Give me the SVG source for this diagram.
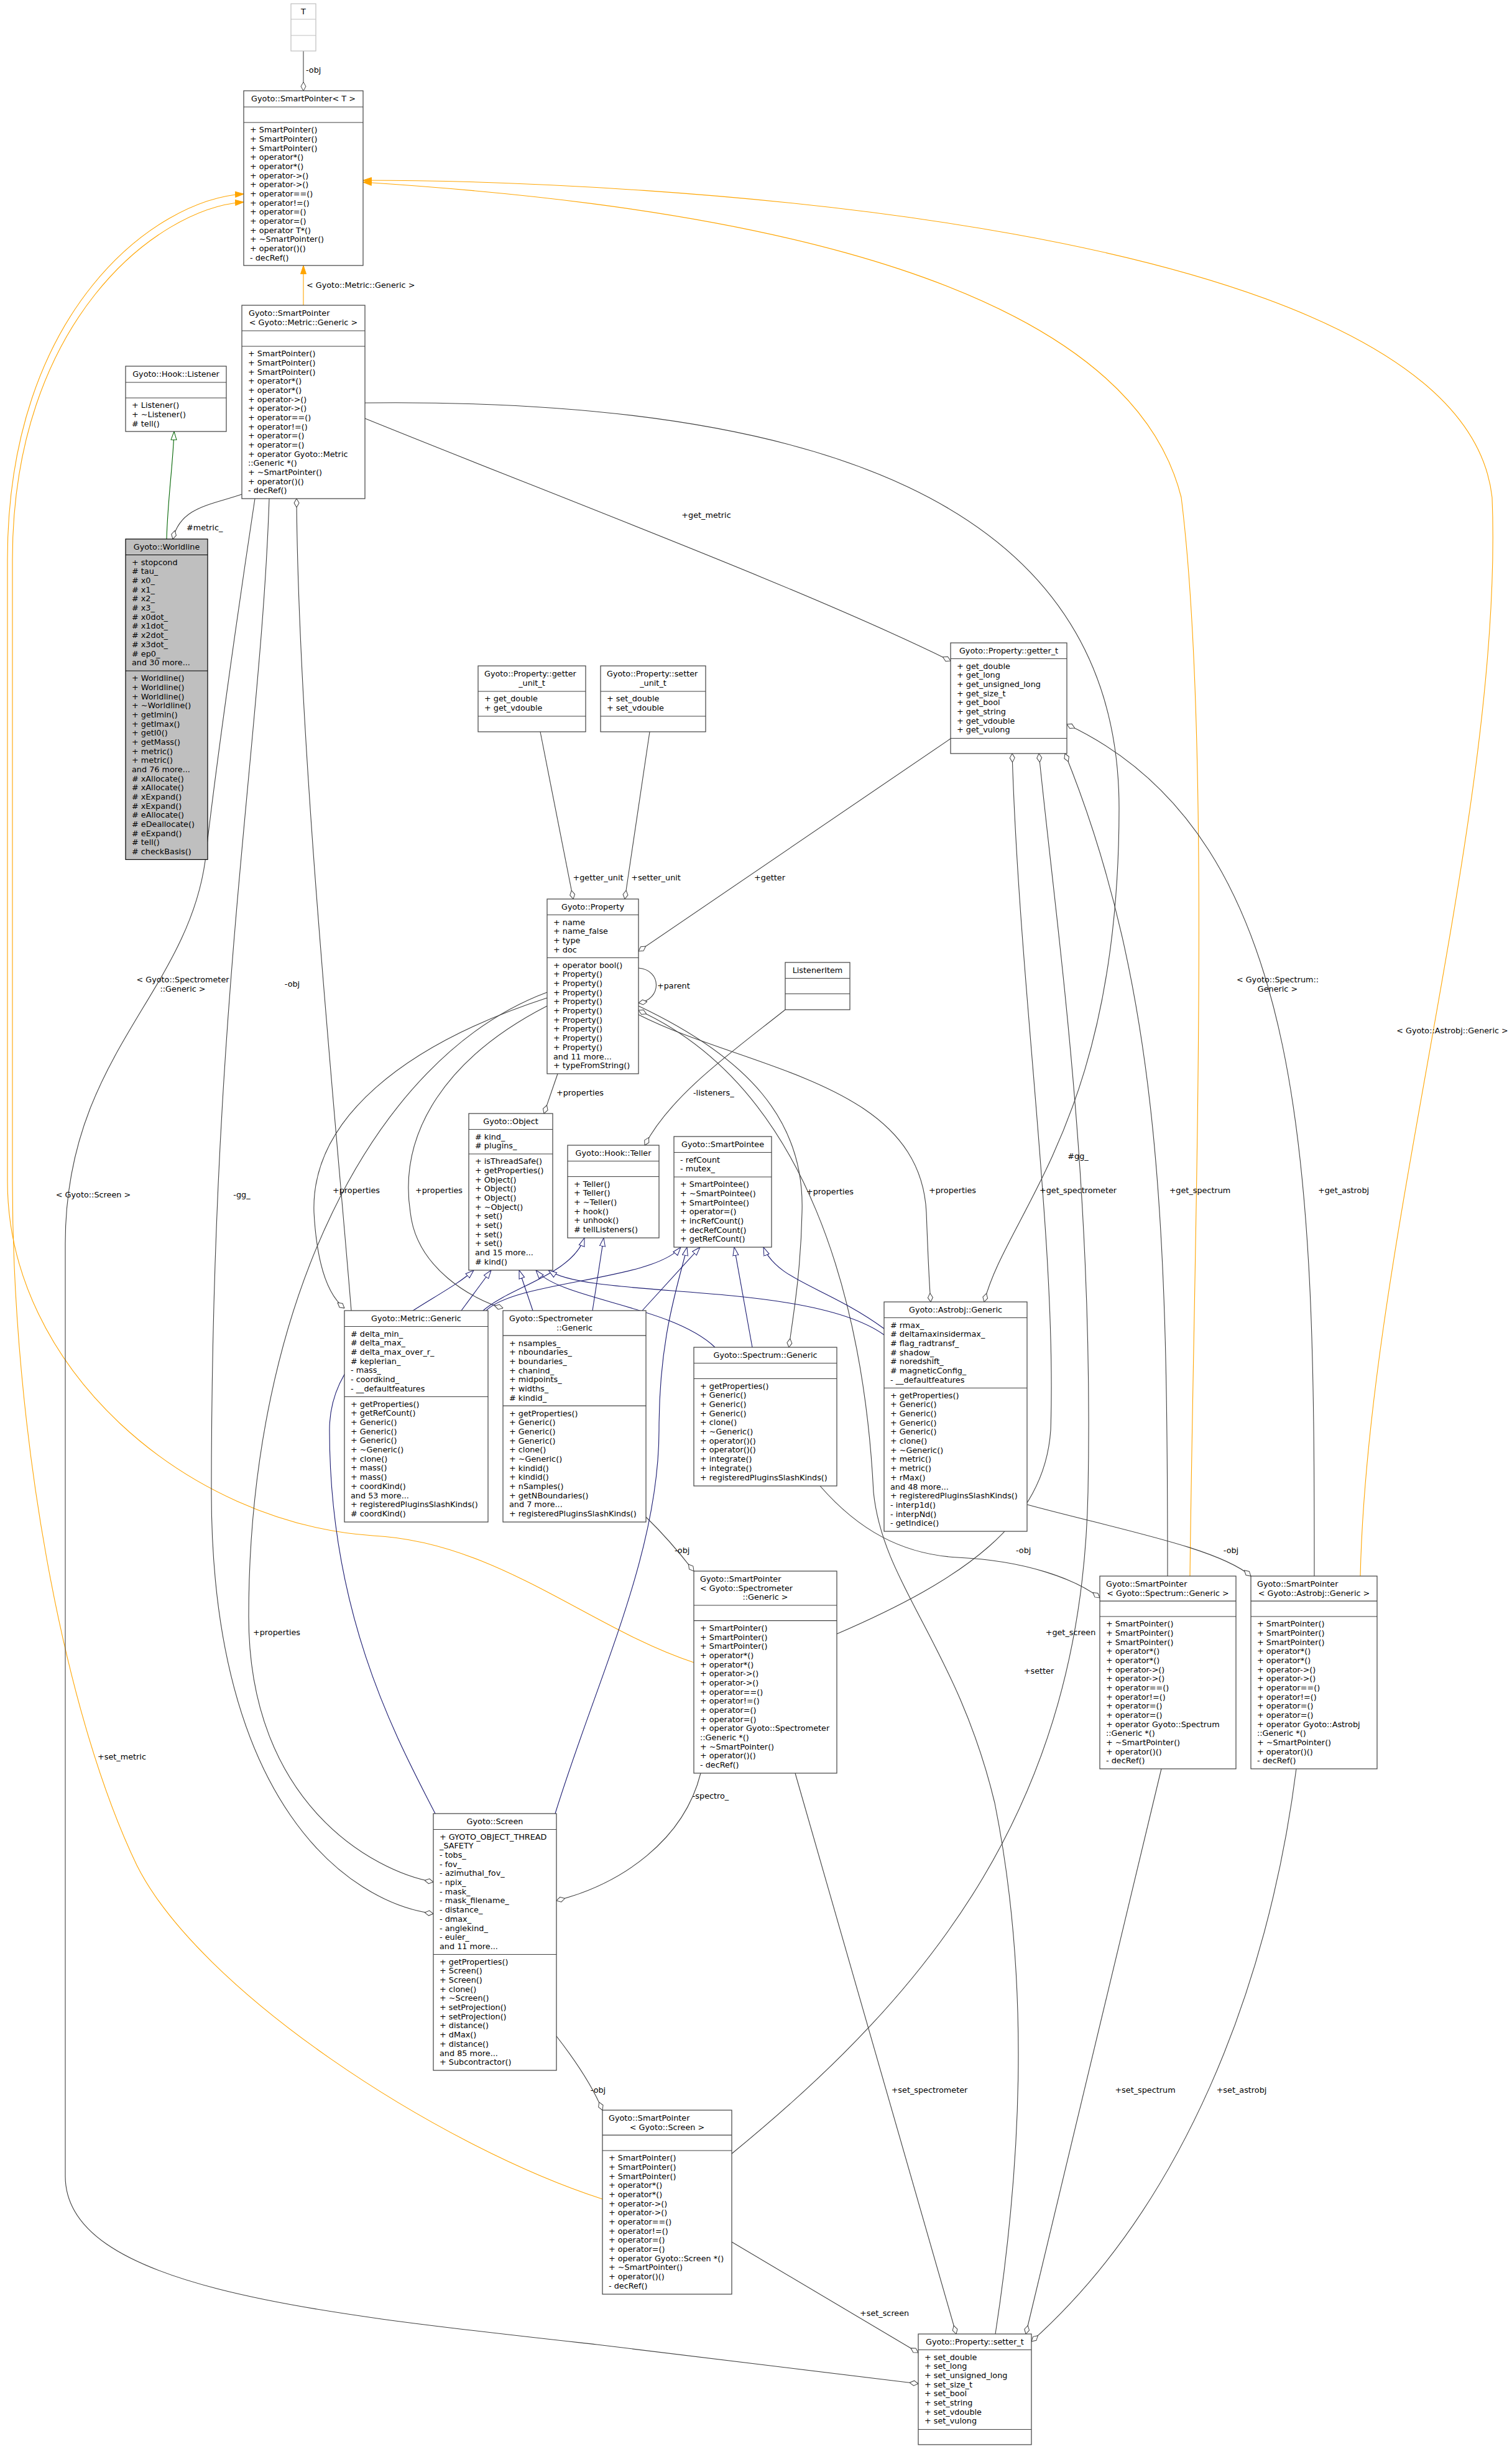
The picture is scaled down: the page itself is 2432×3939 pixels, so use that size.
<svg xmlns="http://www.w3.org/2000/svg" width="2432" height="3939" viewBox="0 0 2432 3939">
<style>
text{font-family:"DejaVu Sans","Liberation Sans",sans-serif;font-size:12.8px;fill:#000}
.c{text-anchor:middle}
.b{fill:#fff;stroke:#404040;stroke-width:1.2}
.s{fill:none;stroke:#404040;stroke-width:1.2}
.g{fill:#fff;stroke:#bfbfbf;stroke-width:1.2}
.gs{fill:none;stroke:#bfbfbf;stroke-width:1.2}
.w{fill:#bfbfbf;stroke:#000;stroke-width:1.2}
.ws{fill:none;stroke:#000;stroke-width:1.2}
.e{fill:none;stroke:#404040;stroke-width:1.1;marker-end:url(#dia)}
.i{fill:none;stroke:#191970;stroke-width:1.1;marker-end:url(#inh)}
.o{fill:none;stroke:#ffa500;stroke-width:1.1;marker-end:url(#tpl)}
.p{fill:none;stroke:#006400;stroke-width:1.1;marker-end:url(#grn)}
</style>
<defs>
<marker id="dia" viewBox="0 0 15 10" refX="14.5" refY="5" markerWidth="15" markerHeight="10" markerUnits="userSpaceOnUse" orient="auto"><path d="M0.5,5 L7.5,1 L14.5,5 L7.5,9 Z" fill="#fff" stroke="#404040" stroke-width="1"/></marker>
<marker id="inh" viewBox="0 0 15 11" refX="14" refY="5.5" markerWidth="15" markerHeight="11" markerUnits="userSpaceOnUse" orient="auto"><path d="M0.5,1 L14,5.5 L0.5,10 Z" fill="#fff" stroke="#191970" stroke-width="1"/></marker>
<marker id="grn" viewBox="0 0 15 11" refX="14" refY="5.5" markerWidth="15" markerHeight="11" markerUnits="userSpaceOnUse" orient="auto"><path d="M0.5,1 L14,5.5 L0.5,10 Z" fill="#fff" stroke="#006400" stroke-width="1"/></marker>
<marker id="tpl" viewBox="0 0 15 11" refX="14" refY="5.5" markerWidth="15" markerHeight="11" markerUnits="userSpaceOnUse" orient="auto"><path d="M0.5,1 L14,5.5 L0.5,10 Z" fill="#ffa500" stroke="#ffa500" stroke-width="1"/></marker>
</defs>
<rect width="2432" height="3939" fill="#fff"/>

<g id="edges">
<path class="o" d="M488,491 L488,427"/>
<path class="o" d="M1116,2674 C950,2620 800,2480 600,2470 C300,2450 12,2200 12,1900 L12,900 C12,500 250,320 392,312"/>
<path class="o" d="M969,3537 C700,3450 320,3200 220,3000 C100,2750 20,2300 20,1900 L20,900 C20,520 250,335 392,325"/>
<path class="o" d="M1914,2535 C1920,2000 1950,1200 1900,800 C1800,400 1000,320 584,293"/>
<path class="o" d="M2188,2535 C2200,2000 2420,1300 2400,800 C2350,350 1000,290 584,290"/>
<path class="p" d="M268,867 C270,800 278,750 280,694"/>
<path class="e" d="M488,82 L488,146"/>
<path class="e" d="M389,795 C340,812 290,815 278,867"/>
<path class="e" d="M587,673 C900,800 1300,950 1529,1063"/>
<path class="e" d="M410,802 C380,1000 345,1250 330,1385 C300,1600 105,1700 105,2000 L105,3500 C105,3680 500,3720 960,3771 L1477,3834"/>
<path class="e" d="M587,648 C1300,640 1800,800 1800,1300 C1800,1800 1620,1950 1583,2094"/>
<path class="e" d="M433,802 C420,1200 340,1600 340,2400 C340,2900 560,3060 697,3078"/>
<path class="e" d="M565,2108 C540,1800 480,1200 477,802"/>
<path class="e" d="M869,1177 L922,1446"/>
<path class="e" d="M1045,1177 L1005,1446"/>
<path class="e" d="M1529,1188 L1027,1530"/>
<path class="e" d="M1027,1557 C1065,1560 1065,1608 1027,1613"/>
<path class="e" d="M897,1727 L875,1791"/>
<path class="e" d="M880,1605 C650,1680 500,1800 505,1950 C510,2040 530,2085 554,2104"/>
<path class="e" d="M880,1618 C720,1700 640,1820 660,1950 C670,2040 760,2090 809,2104"/>
<path class="e" d="M1027,1618 C1200,1700 1295,1800 1290,1950 C1288,2050 1275,2120 1269,2167"/>
<path class="e" d="M1027,1632 C1200,1720 1480,1740 1490,1950 C1493,2030 1495,2070 1497,2094"/>
<path class="e" d="M880,1596 C600,1700 400,2100 400,2600 C400,2900 600,3010 697,3027"/>
<path class="e" d="M1263,1624 C1180,1690 1080,1760 1037,1842"/>
<path class="e" d="M1346,2628 C1550,2540 1680,2450 1690,2300 C1700,2000 1640,1600 1628,1212"/>
<path class="e" d="M1177,3464 C1500,3200 1740,2900 1750,2400 C1760,1900 1700,1500 1671,1212"/>
<path class="e" d="M1878,2535 C1878,2000 1870,1600 1713,1212"/>
<path class="e" d="M2114,2535 C2114,1900 2110,1350 1716,1165"/>
<path class="e" d="M1279,2852 L1538,3754"/>
<path class="e" d="M1868,2845 L1650,3754"/>
<path class="e" d="M2085,2845 C2040,3200 1900,3550 1659,3766"/>
<path class="e" d="M1177,3606 L1477,3784"/>
<path class="e" d="M1127,2852 C1100,2960 1000,3030 895,3057"/>
<path class="e" d="M895,3275 C930,3320 955,3360 969,3394"/>
<path class="e" d="M1039,2440 C1070,2470 1095,2500 1116,2527"/>
<path class="e" d="M1319,2390 C1380,2460 1450,2500 1540,2505 C1650,2510 1730,2540 1769,2570"/>
<path class="e" d="M1652,2420 C1800,2460 1960,2490 2012,2535"/>
<path class="e" d="M1601,3754 C1640,3500 1660,3200 1600,2900 C1540,2650 1420,2550 1405,2400 C1390,2100 1300,1750 1027,1625"/>
<path class="i" d="M742,2108 L790,2043"/>
<path class="i" d="M777,2108 C820,2070 920,2050 940,1991"/>
<path class="i" d="M782,2108 C830,2060 1050,2060 1095,2006"/>
<path class="i" d="M857,2108 L835,2043"/>
<path class="i" d="M953,2108 L971,1991"/>
<path class="i" d="M1033,2108 L1126,2006"/>
<path class="i" d="M1150,2167 C1080,2100 900,2090 862,2043"/>
<path class="i" d="M1210,2167 L1181,2006"/>
<path class="i" d="M1422,2147 C1300,2060 950,2090 882,2043"/>
<path class="i" d="M1422,2137 C1330,2070 1250,2060 1228,2006"/>
<path class="i" d="M700,2917 C640,2800 530,2600 530,2300 C530,2150 700,2100 762,2043"/>
<path class="i" d="M893,2917 C960,2700 1060,2500 1060,2300 C1060,2150 1090,2070 1105,2006"/>
<text x="492" y="117">-obj</text>
<text x="493" y="463">&lt; Gyoto::Metric::Generic &gt;</text>
<text x="300" y="853">#metric_</text>
<text class="c" x="1136" y="833">+get_metric</text>
<text class="c" x="196" y="2830">+set_metric</text>
<text class="c" x="1734" y="1864">#gg_</text>
<text class="c" x="389" y="1926">-gg_</text>
<text class="c" x="470" y="1587">-obj</text>
<text class="c" x="294" y="1580">&lt; Gyoto::Spectrometer</text>
<text class="c" x="294" y="1595">::Generic &gt;</text>
<text class="c" x="150" y="1926">&lt; Gyoto::Screen &gt;</text>
<text class="c" x="2055" y="1580">&lt; Gyoto::Spectrum::</text>
<text class="c" x="2055" y="1595">Generic &gt;</text>
<text class="c" x="2336" y="1662">&lt; Gyoto::Astrobj::Generic &gt;</text>
<text class="c" x="962" y="1416">+getter_unit</text>
<text class="c" x="1055" y="1416">+setter_unit</text>
<text class="c" x="1238" y="1416">+getter</text>
<text x="1057" y="1590">+parent</text>
<text x="895" y="1762">+properties</text>
<text x="1115" y="1762">-listeners_</text>
<text class="c" x="573" y="1919">+properties</text>
<text class="c" x="706" y="1919">+properties</text>
<text x="1297" y="1921">+properties</text>
<text class="c" x="1532" y="1919">+properties</text>
<text class="c" x="445" y="2630">+properties</text>
<text class="c" x="1734" y="1919">+get_spectrometer</text>
<text class="c" x="1930" y="1919">+get_spectrum</text>
<text class="c" x="2161" y="1919">+get_astrobj</text>
<text class="c" x="1722" y="2630">+get_screen</text>
<text class="c" x="1671" y="2692">+setter</text>
<text x="1085" y="2498">-obj</text>
<text x="1634" y="2498">-obj</text>
<text class="c" x="1980" y="2498">-obj</text>
<text class="c" x="1143" y="2893">-spectro_</text>
<text class="c" x="962" y="3366">-obj</text>
<text class="c" x="1495" y="3366">+set_spectrometer</text>
<text class="c" x="1842" y="3366">+set_spectrum</text>
<text class="c" x="1997" y="3366">+set_astrobj</text>
<text x="1383" y="3725">+set_screen</text>
</g>

<g id="n_T"><rect class="g" x="468" y="6" width="40" height="76"/><path class="gs" d="M468,31H508M468,57H508"/><text class="c" x="488" y="23">T</text></g>

<g id="n_SmartPointerT"><rect class="b" x="392" y="146" width="192" height="281"/><path class="s" d="M392,172H584M392,197H584"/>
<text class="c" x="488" y="162.8">Gyoto::SmartPointer&lt; T &gt;</text>
<text x="402" y="213.3"><tspan x="402" dy="0">+ SmartPointer()</tspan><tspan x="402" dy="14.67">+ SmartPointer()</tspan><tspan x="402" dy="14.67">+ SmartPointer()</tspan><tspan x="402" dy="14.67">+ operator*()</tspan><tspan x="402" dy="14.67">+ operator*()</tspan><tspan x="402" dy="14.67">+ operator-&gt;()</tspan><tspan x="402" dy="14.67">+ operator-&gt;()</tspan><tspan x="402" dy="14.67">+ operator==()</tspan><tspan x="402" dy="14.67">+ operator!=()</tspan><tspan x="402" dy="14.67">+ operator=()</tspan><tspan x="402" dy="14.67">+ operator=()</tspan><tspan x="402" dy="14.67">+ operator T*()</tspan><tspan x="402" dy="14.67">+ ~SmartPointer()</tspan><tspan x="402" dy="14.67">+ operator()()</tspan><tspan x="402" dy="14.67">- decRef()</tspan></text></g>

<g id="n_SmartPointerMetric"><rect class="b" x="389" y="491" width="198" height="311"/><path class="s" d="M389,532H587M389,557H587"/>
<text x="400" y="507.8">Gyoto::SmartPointer</text><text class="c" x="488" y="522.5">&lt; Gyoto::Metric::Generic &gt;</text>
<text x="399" y="573.3"><tspan x="399" dy="0">+ SmartPointer()</tspan><tspan x="399" dy="14.67">+ SmartPointer()</tspan><tspan x="399" dy="14.67">+ SmartPointer()</tspan><tspan x="399" dy="14.67">+ operator*()</tspan><tspan x="399" dy="14.67">+ operator*()</tspan><tspan x="399" dy="14.67">+ operator-&gt;()</tspan><tspan x="399" dy="14.67">+ operator-&gt;()</tspan><tspan x="399" dy="14.67">+ operator==()</tspan><tspan x="399" dy="14.67">+ operator!=()</tspan><tspan x="399" dy="14.67">+ operator=()</tspan><tspan x="399" dy="14.67">+ operator=()</tspan><tspan x="399" dy="14.67">+ operator Gyoto::Metric</tspan><tspan x="399" dy="14.67">::Generic *()</tspan><tspan x="399" dy="14.67">+ ~SmartPointer()</tspan><tspan x="399" dy="14.67">+ operator()()</tspan><tspan x="399" dy="14.67">- decRef()</tspan></text></g>

<g id="n_Listener"><rect class="b" x="202" y="589" width="162" height="105"/><path class="s" d="M202,615H364M202,640H364"/>
<text class="c" x="283" y="606">Gyoto::Hook::Listener</text>
<text x="212" y="656.3"><tspan x="212" dy="0">+ Listener()</tspan><tspan x="212" dy="14.67">+ ~Listener()</tspan><tspan x="212" dy="14.67"># tell()</tspan></text></g>

<g id="n_Worldline"><rect class="w" x="202" y="867" width="132" height="515.5"/><path class="ws" d="M202,892.5H334M202,1079H334"/>
<text class="c" x="268" y="884">Gyoto::Worldline</text>
<text x="212" y="908.8"><tspan x="212" dy="0">+ stopcond</tspan><tspan x="212" dy="14.67"># tau_</tspan><tspan x="212" dy="14.67"># x0_</tspan><tspan x="212" dy="14.67"># x1_</tspan><tspan x="212" dy="14.67"># x2_</tspan><tspan x="212" dy="14.67"># x3_</tspan><tspan x="212" dy="14.67"># x0dot_</tspan><tspan x="212" dy="14.67"># x1dot_</tspan><tspan x="212" dy="14.67"># x2dot_</tspan><tspan x="212" dy="14.67"># x3dot_</tspan><tspan x="212" dy="14.67"># ep0_</tspan><tspan x="212" dy="14.67">and 30 more...</tspan></text>
<text x="212" y="1095.3"><tspan x="212" dy="0">+ Worldline()</tspan><tspan x="212" dy="14.67">+ Worldline()</tspan><tspan x="212" dy="14.67">+ Worldline()</tspan><tspan x="212" dy="14.67">+ ~Worldline()</tspan><tspan x="212" dy="14.67">+ getImin()</tspan><tspan x="212" dy="14.67">+ getImax()</tspan><tspan x="212" dy="14.67">+ getI0()</tspan><tspan x="212" dy="14.67">+ getMass()</tspan><tspan x="212" dy="14.67">+ metric()</tspan><tspan x="212" dy="14.67">+ metric()</tspan><tspan x="212" dy="14.67">and 76 more...</tspan><tspan x="212" dy="14.67"># xAllocate()</tspan><tspan x="212" dy="14.67"># xAllocate()</tspan><tspan x="212" dy="14.67"># xExpand()</tspan><tspan x="212" dy="14.67"># xExpand()</tspan><tspan x="212" dy="14.67"># eAllocate()</tspan><tspan x="212" dy="14.67"># eDeallocate()</tspan><tspan x="212" dy="14.67"># eExpand()</tspan><tspan x="212" dy="14.67"># tell()</tspan><tspan x="212" dy="14.67"># checkBasis()</tspan></text></g>

<g id="n_getter_unit_t"><rect class="b" x="769" y="1071" width="173" height="106"/><path class="s" d="M769,1112H942M769,1152H942"/>
<text x="779" y="1087.8">Gyoto::Property::getter</text><text class="c" x="855.5" y="1102.5">_unit_t</text>
<text x="779" y="1128.3"><tspan x="779" dy="0">+ get_double</tspan><tspan x="779" dy="14.67">+ get_vdouble</tspan></text></g>

<g id="n_setter_unit_t"><rect class="b" x="966" y="1071" width="169" height="106"/><path class="s" d="M966,1112H1135M966,1152H1135"/>
<text x="976" y="1087.8">Gyoto::Property::setter</text><text class="c" x="1050.5" y="1102.5">_unit_t</text>
<text x="976" y="1128.3"><tspan x="976" dy="0">+ set_double</tspan><tspan x="976" dy="14.67">+ set_vdouble</tspan></text></g>

<g id="n_getter_t"><rect class="b" x="1529" y="1034" width="187" height="178"/><path class="s" d="M1529,1059.5H1716M1529,1187.5H1716"/>
<text class="c" x="1622.5" y="1051">Gyoto::Property::getter_t</text>
<text x="1539" y="1075.8"><tspan x="1539" dy="0">+ get_double</tspan><tspan x="1539" dy="14.67">+ get_long</tspan><tspan x="1539" dy="14.67">+ get_unsigned_long</tspan><tspan x="1539" dy="14.67">+ get_size_t</tspan><tspan x="1539" dy="14.67">+ get_bool</tspan><tspan x="1539" dy="14.67">+ get_string</tspan><tspan x="1539" dy="14.67">+ get_vdouble</tspan><tspan x="1539" dy="14.67">+ get_vulong</tspan></text></g>

<g id="n_Property"><rect class="b" x="880" y="1446" width="147" height="281"/><path class="s" d="M880,1471.5H1027M880,1540.5H1027"/>
<text class="c" x="953.5" y="1463">Gyoto::Property</text>
<text x="890" y="1487.8"><tspan x="890" dy="0">+ name</tspan><tspan x="890" dy="14.67">+ name_false</tspan><tspan x="890" dy="14.67">+ type</tspan><tspan x="890" dy="14.67">+ doc</tspan></text>
<text x="890" y="1556.8"><tspan x="890" dy="0">+ operator bool()</tspan><tspan x="890" dy="14.67">+ Property()</tspan><tspan x="890" dy="14.67">+ Property()</tspan><tspan x="890" dy="14.67">+ Property()</tspan><tspan x="890" dy="14.67">+ Property()</tspan><tspan x="890" dy="14.67">+ Property()</tspan><tspan x="890" dy="14.67">+ Property()</tspan><tspan x="890" dy="14.67">+ Property()</tspan><tspan x="890" dy="14.67">+ Property()</tspan><tspan x="890" dy="14.67">+ Property()</tspan><tspan x="890" dy="14.67">and 11 more...</tspan><tspan x="890" dy="14.67">+ typeFromString()</tspan></text></g>

<g id="n_ListenerItem"><rect class="b" x="1263" y="1548" width="104" height="76"/><path class="s" d="M1263,1573.5H1367M1263,1598.5H1367"/>
<text class="c" x="1315" y="1565">ListenerItem</text></g>

<g id="n_Object"><rect class="b" x="754" y="1791" width="135" height="252"/><path class="s" d="M754,1816.5H889M754,1856H889"/>
<text class="c" x="821.5" y="1808">Gyoto::Object</text>
<text x="764" y="1832.8"><tspan x="764" dy="0"># kind_</tspan><tspan x="764" dy="14.67"># plugins_</tspan></text>
<text x="764" y="1872.3"><tspan x="764" dy="0">+ isThreadSafe()</tspan><tspan x="764" dy="14.67">+ getProperties()</tspan><tspan x="764" dy="14.67">+ Object()</tspan><tspan x="764" dy="14.67">+ Object()</tspan><tspan x="764" dy="14.67">+ Object()</tspan><tspan x="764" dy="14.67">+ ~Object()</tspan><tspan x="764" dy="14.67">+ set()</tspan><tspan x="764" dy="14.67">+ set()</tspan><tspan x="764" dy="14.67">+ set()</tspan><tspan x="764" dy="14.67">+ set()</tspan><tspan x="764" dy="14.67">and 15 more...</tspan><tspan x="764" dy="14.67"># kind()</tspan></text></g>

<g id="n_Teller"><rect class="b" x="913" y="1842" width="147" height="149"/><path class="s" d="M913,1867.5H1060M913,1892.5H1060"/>
<text class="c" x="986.5" y="1859">Gyoto::Hook::Teller</text>
<text x="923" y="1908.8"><tspan x="923" dy="0">+ Teller()</tspan><tspan x="923" dy="14.67">+ Teller()</tspan><tspan x="923" dy="14.67">+ ~Teller()</tspan><tspan x="923" dy="14.67">+ hook()</tspan><tspan x="923" dy="14.67">+ unhook()</tspan><tspan x="923" dy="14.67"># tellListeners()</tspan></text></g>

<g id="n_SmartPointee"><rect class="b" x="1084" y="1828" width="157" height="178"/><path class="s" d="M1084,1853.5H1241M1084,1893H1241"/>
<text class="c" x="1162.5" y="1845">Gyoto::SmartPointee</text>
<text x="1094" y="1869.8"><tspan x="1094" dy="0">- refCount</tspan><tspan x="1094" dy="14.67">- mutex_</tspan></text>
<text x="1094" y="1909.3"><tspan x="1094" dy="0">+ SmartPointee()</tspan><tspan x="1094" dy="14.67">+ ~SmartPointee()</tspan><tspan x="1094" dy="14.67">+ SmartPointee()</tspan><tspan x="1094" dy="14.67">+ operator=()</tspan><tspan x="1094" dy="14.67">+ incRefCount()</tspan><tspan x="1094" dy="14.67">+ decRefCount()</tspan><tspan x="1094" dy="14.67">+ getRefCount()</tspan></text></g>

<g id="n_MetricGeneric"><rect class="b" x="554" y="2108" width="231" height="340"/><path class="s" d="M554,2133.5H785M554,2246.5H785"/>
<text class="c" x="669.5" y="2125">Gyoto::Metric::Generic</text>
<text x="564" y="2149.8"><tspan x="564" dy="0"># delta_min_</tspan><tspan x="564" dy="14.67"># delta_max_</tspan><tspan x="564" dy="14.67"># delta_max_over_r_</tspan><tspan x="564" dy="14.67"># keplerian_</tspan><tspan x="564" dy="14.67">- mass_</tspan><tspan x="564" dy="14.67">- coordkind_</tspan><tspan x="564" dy="14.67">- __defaultfeatures</tspan></text>
<text x="564" y="2262.8"><tspan x="564" dy="0">+ getProperties()</tspan><tspan x="564" dy="14.67">+ getRefCount()</tspan><tspan x="564" dy="14.67">+ Generic()</tspan><tspan x="564" dy="14.67">+ Generic()</tspan><tspan x="564" dy="14.67">+ Generic()</tspan><tspan x="564" dy="14.67">+ ~Generic()</tspan><tspan x="564" dy="14.67">+ clone()</tspan><tspan x="564" dy="14.67">+ mass()</tspan><tspan x="564" dy="14.67">+ mass()</tspan><tspan x="564" dy="14.67">+ coordKind()</tspan><tspan x="564" dy="14.67">and 53 more...</tspan><tspan x="564" dy="14.67">+ registeredPluginsSlashKinds()</tspan><tspan x="564" dy="14.67"># coordKind()</tspan></text></g>

<g id="n_SpectrometerGeneric"><rect class="b" x="809" y="2108" width="230" height="340"/><path class="s" d="M809,2148.2H1039M809,2261.2H1039"/>
<text x="819" y="2124.8">Gyoto::Spectrometer</text><text class="c" x="924" y="2139.5">::Generic</text>
<text x="819" y="2164.5"><tspan x="819" dy="0">+ nsamples_</tspan><tspan x="819" dy="14.67">+ nboundaries_</tspan><tspan x="819" dy="14.67">+ boundaries_</tspan><tspan x="819" dy="14.67">+ chanind_</tspan><tspan x="819" dy="14.67">+ midpoints_</tspan><tspan x="819" dy="14.67">+ widths_</tspan><tspan x="819" dy="14.67"># kindid_</tspan></text>
<text x="819" y="2277.5"><tspan x="819" dy="0">+ getProperties()</tspan><tspan x="819" dy="14.67">+ Generic()</tspan><tspan x="819" dy="14.67">+ Generic()</tspan><tspan x="819" dy="14.67">+ Generic()</tspan><tspan x="819" dy="14.67">+ clone()</tspan><tspan x="819" dy="14.67">+ ~Generic()</tspan><tspan x="819" dy="14.67">+ kindid()</tspan><tspan x="819" dy="14.67">+ kindid()</tspan><tspan x="819" dy="14.67">+ nSamples()</tspan><tspan x="819" dy="14.67">+ getNBoundaries()</tspan><tspan x="819" dy="14.67">and 7 more...</tspan><tspan x="819" dy="14.67">+ registeredPluginsSlashKinds()</tspan></text></g>

<g id="n_SpectrumGeneric"><rect class="b" x="1116" y="2167" width="230" height="223"/><path class="s" d="M1116,2192.5H1346M1116,2217.5H1346"/>
<text class="c" x="1231" y="2184">Gyoto::Spectrum::Generic</text>
<text x="1126" y="2233.8"><tspan x="1126" dy="0">+ getProperties()</tspan><tspan x="1126" dy="14.67">+ Generic()</tspan><tspan x="1126" dy="14.67">+ Generic()</tspan><tspan x="1126" dy="14.67">+ Generic()</tspan><tspan x="1126" dy="14.67">+ clone()</tspan><tspan x="1126" dy="14.67">+ ~Generic()</tspan><tspan x="1126" dy="14.67">+ operator()()</tspan><tspan x="1126" dy="14.67">+ operator()()</tspan><tspan x="1126" dy="14.67">+ integrate()</tspan><tspan x="1126" dy="14.67">+ integrate()</tspan><tspan x="1126" dy="14.67">+ registeredPluginsSlashKinds()</tspan></text></g>

<g id="n_AstrobjGeneric"><rect class="b" x="1422" y="2094" width="230" height="369"/><path class="s" d="M1422,2119.5H1652M1422,2232.5H1652"/>
<text class="c" x="1537" y="2111">Gyoto::Astrobj::Generic</text>
<text x="1432" y="2135.8"><tspan x="1432" dy="0"># rmax_</tspan><tspan x="1432" dy="14.67"># deltamaxinsidermax_</tspan><tspan x="1432" dy="14.67"># flag_radtransf_</tspan><tspan x="1432" dy="14.67"># shadow_</tspan><tspan x="1432" dy="14.67"># noredshift_</tspan><tspan x="1432" dy="14.67"># magneticConfig_</tspan><tspan x="1432" dy="14.67">- __defaultfeatures</tspan></text>
<text x="1432" y="2248.8"><tspan x="1432" dy="0">+ getProperties()</tspan><tspan x="1432" dy="14.67">+ Generic()</tspan><tspan x="1432" dy="14.67">+ Generic()</tspan><tspan x="1432" dy="14.67">+ Generic()</tspan><tspan x="1432" dy="14.67">+ Generic()</tspan><tspan x="1432" dy="14.67">+ clone()</tspan><tspan x="1432" dy="14.67">+ ~Generic()</tspan><tspan x="1432" dy="14.67">+ metric()</tspan><tspan x="1432" dy="14.67">+ metric()</tspan><tspan x="1432" dy="14.67">+ rMax()</tspan><tspan x="1432" dy="14.67">and 48 more...</tspan><tspan x="1432" dy="14.67">+ registeredPluginsSlashKinds()</tspan><tspan x="1432" dy="14.67">- interp1d()</tspan><tspan x="1432" dy="14.67">- interpNd()</tspan><tspan x="1432" dy="14.67">- getIndice()</tspan></text></g>

<g id="n_SmartPointerSpectrometer"><rect class="b" x="1116" y="2527" width="230" height="325"/><path class="s" d="M1116,2582H1346M1116,2606.6H1346"/>
<text x="1126" y="2543.8">Gyoto::SmartPointer</text><text x="1126" y="2558.5">&lt; Gyoto::Spectrometer</text><text class="c" x="1231" y="2573.2">::Generic &gt;</text>
<text x="1126" y="2622.9"><tspan x="1126" dy="0">+ SmartPointer()</tspan><tspan x="1126" dy="14.67">+ SmartPointer()</tspan><tspan x="1126" dy="14.67">+ SmartPointer()</tspan><tspan x="1126" dy="14.67">+ operator*()</tspan><tspan x="1126" dy="14.67">+ operator*()</tspan><tspan x="1126" dy="14.67">+ operator-&gt;()</tspan><tspan x="1126" dy="14.67">+ operator-&gt;()</tspan><tspan x="1126" dy="14.67">+ operator==()</tspan><tspan x="1126" dy="14.67">+ operator!=()</tspan><tspan x="1126" dy="14.67">+ operator=()</tspan><tspan x="1126" dy="14.67">+ operator=()</tspan><tspan x="1126" dy="14.67">+ operator Gyoto::Spectrometer</tspan><tspan x="1126" dy="14.67">::Generic *()</tspan><tspan x="1126" dy="14.67">+ ~SmartPointer()</tspan><tspan x="1126" dy="14.67">+ operator()()</tspan><tspan x="1126" dy="14.67">- decRef()</tspan></text></g>

<g id="n_SmartPointerSpectrum"><rect class="b" x="1769" y="2535" width="219" height="310"/><path class="s" d="M1769,2575.2H1988M1769,2600H1988"/>
<text x="1779" y="2551.8">Gyoto::SmartPointer</text><text class="c" x="1878.5" y="2566.5">&lt; Gyoto::Spectrum::Generic &gt;</text>
<text x="1779" y="2616.3"><tspan x="1779" dy="0">+ SmartPointer()</tspan><tspan x="1779" dy="14.67">+ SmartPointer()</tspan><tspan x="1779" dy="14.67">+ SmartPointer()</tspan><tspan x="1779" dy="14.67">+ operator*()</tspan><tspan x="1779" dy="14.67">+ operator*()</tspan><tspan x="1779" dy="14.67">+ operator-&gt;()</tspan><tspan x="1779" dy="14.67">+ operator-&gt;()</tspan><tspan x="1779" dy="14.67">+ operator==()</tspan><tspan x="1779" dy="14.67">+ operator!=()</tspan><tspan x="1779" dy="14.67">+ operator=()</tspan><tspan x="1779" dy="14.67">+ operator=()</tspan><tspan x="1779" dy="14.67">+ operator Gyoto::Spectrum</tspan><tspan x="1779" dy="14.67">::Generic *()</tspan><tspan x="1779" dy="14.67">+ ~SmartPointer()</tspan><tspan x="1779" dy="14.67">+ operator()()</tspan><tspan x="1779" dy="14.67">- decRef()</tspan></text></g>

<g id="n_SmartPointerAstrobj"><rect class="b" x="2012" y="2535" width="203" height="310"/><path class="s" d="M2012,2575.2H2215M2012,2600H2215"/>
<text x="2022" y="2551.8">Gyoto::SmartPointer</text><text class="c" x="2113.5" y="2566.5">&lt; Gyoto::Astrobj::Generic &gt;</text>
<text x="2022" y="2616.3"><tspan x="2022" dy="0">+ SmartPointer()</tspan><tspan x="2022" dy="14.67">+ SmartPointer()</tspan><tspan x="2022" dy="14.67">+ SmartPointer()</tspan><tspan x="2022" dy="14.67">+ operator*()</tspan><tspan x="2022" dy="14.67">+ operator*()</tspan><tspan x="2022" dy="14.67">+ operator-&gt;()</tspan><tspan x="2022" dy="14.67">+ operator-&gt;()</tspan><tspan x="2022" dy="14.67">+ operator==()</tspan><tspan x="2022" dy="14.67">+ operator!=()</tspan><tspan x="2022" dy="14.67">+ operator=()</tspan><tspan x="2022" dy="14.67">+ operator=()</tspan><tspan x="2022" dy="14.67">+ operator Gyoto::Astrobj</tspan><tspan x="2022" dy="14.67">::Generic *()</tspan><tspan x="2022" dy="14.67">+ ~SmartPointer()</tspan><tspan x="2022" dy="14.67">+ operator()()</tspan><tspan x="2022" dy="14.67">- decRef()</tspan></text></g>

<g id="n_Screen"><rect class="b" x="697" y="2917" width="198" height="413"/><path class="s" d="M697,2942.5H895M697,3143.5H895"/>
<text class="c" x="796" y="2934">Gyoto::Screen</text>
<text x="707" y="2958.8"><tspan x="707" dy="0">+ GYOTO_OBJECT_THREAD</tspan><tspan x="707" dy="14.67">_SAFETY</tspan><tspan x="707" dy="14.67">- tobs_</tspan><tspan x="707" dy="14.67">- fov_</tspan><tspan x="707" dy="14.67">- azimuthal_fov_</tspan><tspan x="707" dy="14.67">- npix_</tspan><tspan x="707" dy="14.67">- mask_</tspan><tspan x="707" dy="14.67">- mask_filename_</tspan><tspan x="707" dy="14.67">- distance_</tspan><tspan x="707" dy="14.67">- dmax_</tspan><tspan x="707" dy="14.67">- anglekind_</tspan><tspan x="707" dy="14.67">- euler_</tspan><tspan x="707" dy="14.67">and 11 more...</tspan></text>
<text x="707" y="3159.8"><tspan x="707" dy="0">+ getProperties()</tspan><tspan x="707" dy="14.67">+ Screen()</tspan><tspan x="707" dy="14.67">+ Screen()</tspan><tspan x="707" dy="14.67">+ clone()</tspan><tspan x="707" dy="14.67">+ ~Screen()</tspan><tspan x="707" dy="14.67">+ setProjection()</tspan><tspan x="707" dy="14.67">+ setProjection()</tspan><tspan x="707" dy="14.67">+ distance()</tspan><tspan x="707" dy="14.67">+ dMax()</tspan><tspan x="707" dy="14.67">+ distance()</tspan><tspan x="707" dy="14.67">and 85 more...</tspan><tspan x="707" dy="14.67">+ Subcontractor()</tspan></text></g>

<g id="n_SmartPointerScreen"><rect class="b" x="969" y="3394" width="208" height="296"/><path class="s" d="M969,3434.2H1177M969,3459H1177"/>
<text x="979" y="3410.8">Gyoto::SmartPointer</text><text class="c" x="1073" y="3425.5">&lt; Gyoto::Screen &gt;</text>
<text x="979" y="3475.3"><tspan x="979" dy="0">+ SmartPointer()</tspan><tspan x="979" dy="14.67">+ SmartPointer()</tspan><tspan x="979" dy="14.67">+ SmartPointer()</tspan><tspan x="979" dy="14.67">+ operator*()</tspan><tspan x="979" dy="14.67">+ operator*()</tspan><tspan x="979" dy="14.67">+ operator-&gt;()</tspan><tspan x="979" dy="14.67">+ operator-&gt;()</tspan><tspan x="979" dy="14.67">+ operator==()</tspan><tspan x="979" dy="14.67">+ operator!=()</tspan><tspan x="979" dy="14.67">+ operator=()</tspan><tspan x="979" dy="14.67">+ operator=()</tspan><tspan x="979" dy="14.67">+ operator Gyoto::Screen *()</tspan><tspan x="979" dy="14.67">+ ~SmartPointer()</tspan><tspan x="979" dy="14.67">+ operator()()</tspan><tspan x="979" dy="14.67">- decRef()</tspan></text></g>

<g id="n_setter_t"><rect class="b" x="1477" y="3754" width="182" height="178"/><path class="s" d="M1477,3779.5H1659M1477,3907.5H1659"/>
<text class="c" x="1568" y="3771">Gyoto::Property::setter_t</text>
<text x="1487" y="3795.8"><tspan x="1487" dy="0">+ set_double</tspan><tspan x="1487" dy="14.67">+ set_long</tspan><tspan x="1487" dy="14.67">+ set_unsigned_long</tspan><tspan x="1487" dy="14.67">+ set_size_t</tspan><tspan x="1487" dy="14.67">+ set_bool</tspan><tspan x="1487" dy="14.67">+ set_string</tspan><tspan x="1487" dy="14.67">+ set_vdouble</tspan><tspan x="1487" dy="14.67">+ set_vulong</tspan></text></g>
</svg>
